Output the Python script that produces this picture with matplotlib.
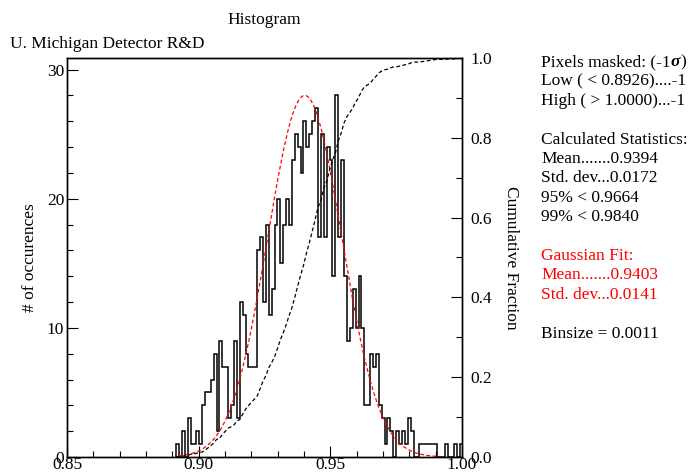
import numpy as np
import matplotlib.pyplot as plt
from matplotlib.ticker import MultipleLocator

plt.rcParams['font.family'] = ['Liberation Serif', 'DejaVu Serif']

# histogram of pixel values, one count per bin
BIN_START = 0.8914
BIN_SIZE = 0.0011
counts = [
    1, 0, 2, 0, 3, 1, 1, 2, 1, 4,
    5, 5, 6, 8, 2, 9, 7, 7, 3, 4,
    9, 3, 12, 11, 8, 7, 7, 7, 16, 17,
    12, 18, 11, 13, 18, 20, 15, 18, 20, 18,
    23, 25, 24, 22, 26, 24, 25, 26, 27, 17,
    25, 17, 24, 23, 14, 28, 17, 23, 14, 9,
    10, 13, 10, 14, 10, 4, 4, 8, 7, 8,
    4, 3, 1, 3, 2, 0, 2, 1, 2, 1,
    3, 2, 0, 0, 1, 1, 1, 1, 1, 1,
    0, 0, 0, 1, 0, 0, 1, 0, 1,
]

# gaussian fit
FIT_MEAN = 0.9403
FIT_SIGMA = 0.0141
FIT_PEAK = 28.0
FIT_LO, FIT_HI = 0.8926, 0.9935

stats_lines = [
    ("Pixels masked: (-1", "black"),
    ("Low ( < 0.8926)....-1", "black"),
    ("High ( > 1.0000)...-1", "black"),
    ("", None),
    ("Calculated Statistics:", "black"),
    ("Mean.......0.9394", "black"),
    ("Std. dev...0.0172", "black"),
    ("95% < 0.9664", "black"),
    ("99% < 0.9840", "black"),
    ("", None),
    ("Gaussian Fit:", "red"),
    ("Mean.......0.9403", "red"),
    ("Std. dev...0.0141", "red"),
    ("", None),
    ("Binsize = 0.0011", "black"),
]

W, H = 691, 473
FS = 12.5
fig = plt.figure(figsize=(W / 100, H / 100), dpi=100)
ax = fig.add_axes([67 / W, 16 / H, 395 / W, 399 / H])

counts = np.array(counts)
edges = BIN_START + BIN_SIZE * np.arange(len(counts) + 1)
ax.stairs(counts, edges, color="black", lw=1.1, baseline=0)

xg = np.linspace(FIT_LO, FIT_HI, 300)
yg = FIT_PEAK * np.exp(-0.5 * ((xg - FIT_MEAN) / FIT_SIGMA) ** 2)
ax.plot(xg, yg, color="red", lw=0.9, ls=(0, (3, 2)))

ax.set_xlim(0.85, 1.0)
ax.set_ylim(0, 30.9)
ax.xaxis.set_major_locator(MultipleLocator(0.05))
ax.xaxis.set_minor_locator(MultipleLocator(0.01))
ax.yaxis.set_major_locator(MultipleLocator(10))
ax.yaxis.set_minor_locator(MultipleLocator(2))
ax.xaxis.set_major_formatter(lambda v, p: f"{v:.2f}")
ax.tick_params(which="both", direction="in", right=True, top=False,
               labelsize=FS, width=0.8, pad=2)
ax.tick_params(axis="x", pad=0)
ax.tick_params(which="major", length=8)
ax.tick_params(which="minor", length=4)
ax.set_ylabel("# of occurences", fontsize=FS, va="center")
ax.yaxis.set_label_coords(-0.093, 0.5)

# cumulative fraction on the right axis
ax2 = ax.twinx()
cum = np.concatenate([[0], np.cumsum(counts)]) / counts.sum()
ax2.plot(edges, cum, color="black", lw=0.9, ls=(0, (3, 2)))
ax2.set_ylim(0, 1.0)
ax2.yaxis.set_major_locator(MultipleLocator(0.2))
ax2.yaxis.set_minor_locator(MultipleLocator(0.1))
ax2.yaxis.set_major_formatter(lambda v, p: f"{v:.1f}")
ax2.tick_params(which="both", direction="in", labelsize=FS, width=0.8, pad=6)
ax2.tick_params(which="major", length=8)
ax2.tick_params(which="minor", length=4)
ax2.set_ylabel("Cumulative Fraction", fontsize=FS, rotation=270, va="center")
ax2.yaxis.set_label_coords(1.124, 0.5)

for a in (ax, ax2):
    for s in a.spines.values():
        s.set_linewidth(1.0)

fig.text(264.5 / W, 1 - 20 / H, "Histogram", ha="center", va="center", fontsize=FS)
fig.text(10 / W, 1 - 44 / H, "U. Michigan Detector R&D", ha="left", va="center",
         fontsize=FS)

texts = []
for k, (line, col) in enumerate(stats_lines):
    if line:
        t = fig.text(541 / W, 1 - (62 + 19.4 * k) / H, line, ha="left",
                     va="center", fontsize=FS, color=col)
        texts.append(t)

# bold italic sigma and closing bracket after the first line
renderer = fig.canvas.get_renderer()
first = texts[0]
bb = first.get_window_extent(renderer)
x = bb.x1 / W
y = first.get_position()[1]
sig = fig.text(x, y, "\u03c3", ha="left", va="center", fontsize=FS,
               fontweight="bold", fontstyle="italic")
bb2 = sig.get_window_extent(renderer)
fig.text(bb2.x1 / W, y, ")", ha="left", va="center", fontsize=FS)

fig.savefig("out.png", dpi=100)
